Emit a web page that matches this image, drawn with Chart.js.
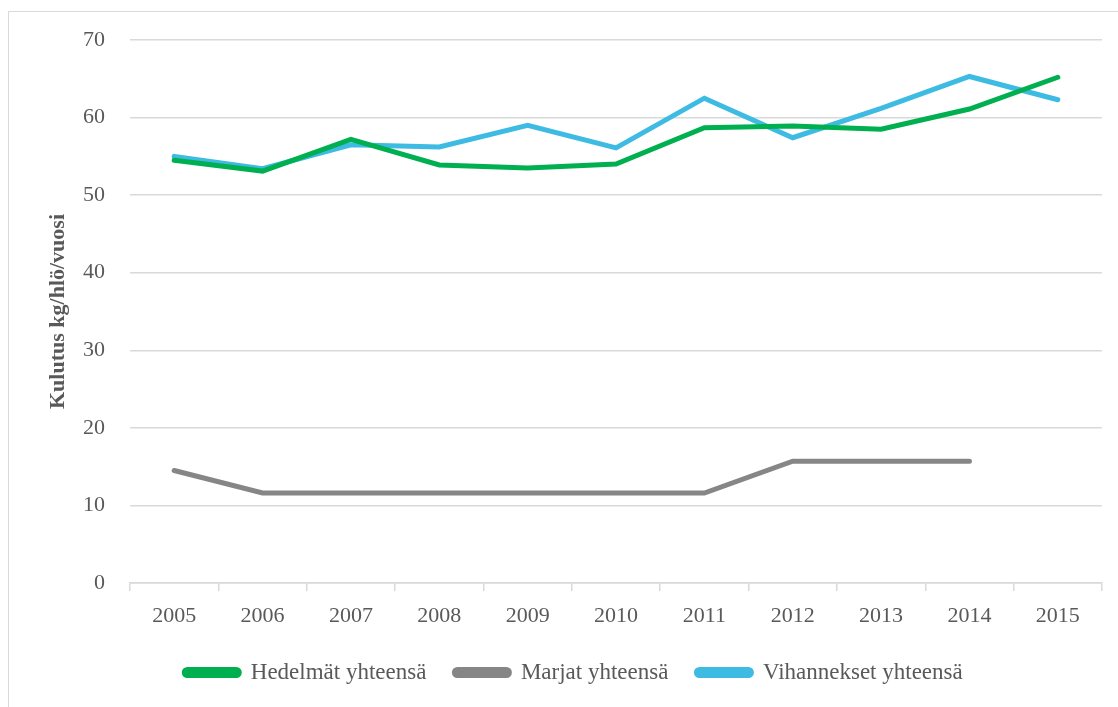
<!DOCTYPE html>
<html>
<head>
<meta charset="utf-8">
<script src="https://cdn.jsdelivr.net/npm/chart.js@4"></script>
<style>
  body { margin: 0; background: #fff; }
  #frame { position: absolute; left: 8px; top: 11px; width: 1200px; height: 800px;
           border-left: 1.5px solid #d9d9d9; border-top: 1.5px solid #d9d9d9; }
  #wrap { position: absolute; left: 0; top: 0; width: 1118px; height: 707px; }
</style>
</head>
<body>
<div id="frame"></div>
<div id="wrap"><canvas id="report"></canvas></div>
<script>
const years = ["2005", "2006", "2007", "2008", "2009", "2010", "2011", "2012", "2013", "2014", "2015"];
const hedelmat = [54.5, 53.1, 57.2, 53.9, 53.5, 54.0, 58.7, 58.9, 58.5, 61.1, 65.2];
const marjat = [14.5, 11.6, 11.6, 11.6, 11.6, 11.6, 11.6, 15.7, 15.7, 15.7, null];
const vihannekset = [55.0, 53.4, 56.5, 56.2, 59.0, 56.1, 62.5, 57.4, 61.2, 65.3, 62.3];

const FONT = "'Liberation Serif', 'Times New Roman', serif";
const GRID = '#d9d9d9';
const TEXT = '#595959';

const CHART = document.getElementById("report");
var lineChart = new Chart(CHART, {
    type: 'line',
    data: {
        labels: years,
        datasets: [
            {
                label: 'Hedelmät yhteensä',
                data: hedelmat,
                borderColor: '#00b050',
                backgroundColor: '#00b050',
                borderWidth: 5
            },
            {
                label: 'Marjat yhteensä',
                data: marjat,
                borderColor: '#868686',
                backgroundColor: '#868686',
                borderWidth: 5
            },
            {
                label: 'Vihannekset yhteensä',
                data: vihannekset,
                borderColor: '#3dbbe3',
                backgroundColor: '#3dbbe3',
                borderWidth: 5
            }
        ]
    },
    options: {
        responsive: true,
        maintainAspectRatio: false,
        animation: false,
        layout: { padding: { left: 45, right: 16, top: 40, bottom: 13 } },
        elements: {
            point: { radius: 0, hoverRadius: 0 },
            line: { tension: 0, borderCapStyle: 'round', borderJoinStyle: 'miter' }
        },
        plugins: {
            tooltip: { enabled: false },
            legend: {
                display: true,
                position: 'bottom',
                labels: {
                    font: { family: FONT, size: 23 },
                    color: TEXT,
                    boxWidth: 55,
                    boxHeight: 6,
                    padding: 28,
                    useBorderRadius: true,
                    borderRadius: 3
                }
            }
        },
        scales: {
            x: {
                offset: true,
                grid: { offset: true, drawOnChartArea: false, drawTicks: true, tickLength: 8, color: GRID, lineWidth: 1.5 },
                border: { color: GRID, width: 1.5 },
                ticks: { font: { family: FONT, size: 22 }, color: TEXT, padding: 12, maxRotation: 0 },
                afterFit: function (scale) { scale.height = 50; }
            },
            y: {
                min: 0,
                max: 70,
                ticks: { stepSize: 10, font: { family: FONT, size: 22 }, color: TEXT, padding: 25 },
                grid: { color: GRID, lineWidth: 1.5, drawTicks: false },
                border: { display: false },
                title: {
                    display: true,
                    text: 'Kulutus kg/hlö/vuosi',
                    font: { family: FONT, size: 22, weight: 'bold' },
                    color: TEXT,
                    padding: 0
                },
                afterFit: function (scale) { scale.width = 85; }
            }
        }
    }
});
</script>
</body>
</html>
